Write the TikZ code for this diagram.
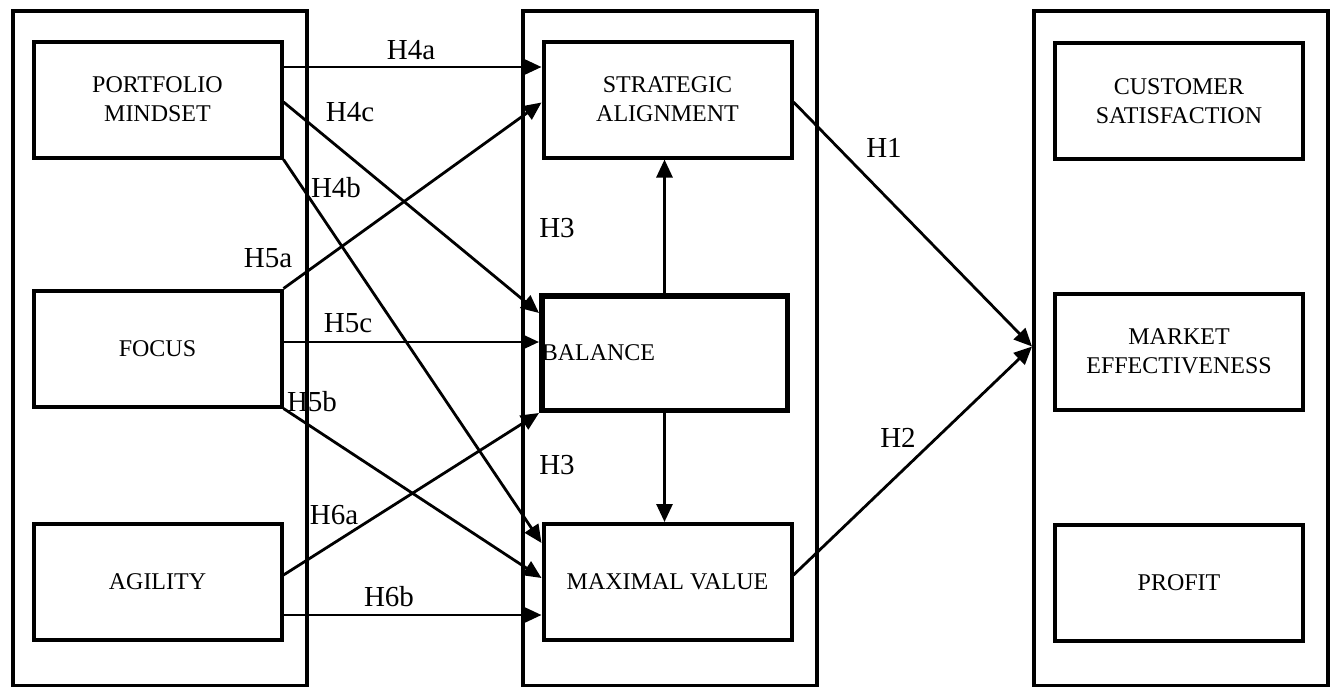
\documentclass[tikz,border=0pt]{standalone}
\usepackage{fontspec}
\setmainfont{Liberation Serif}
\usetikzlibrary{arrows.meta}

\tikzset{
  group/.style={draw,line width=4pt,minimum width=294pt,minimum height=675pt},
  box/.style={draw,line width=4pt,minimum width=248pt,minimum height=116pt,
    align=center,font=\fontsize{24}{29}\selectfont},
  balbox/.style={box,line width=5.5pt,minimum width=245.5pt,minimum height=114.5pt,
    text width=245.5pt,inner xsep=0pt,align=left},
  lab/.style={font=\fontsize{29}{31}\selectfont,inner sep=0pt},
  arr/.style={line width=2.8pt,-{Triangle[length=18pt,width=16pt]}},
}

\begin{document}
\begin{tikzpicture}[x=1pt,y=-1pt]
        \useasboundingbox (0,0) rectangle (1332,686);
        % the three columns
        \draw (160,348.5) node[group] (outL) {};
        \draw (669.5,348.5) node[group] (outM) {};
        \draw (1181,348.5) node[group] (outR) {};
        % left column
        \draw (157.5,99.5) node[box] (pm) {PORTFOLIO\\MINDSET};
        \draw (157.5,348.5) node[box] (fo) {FOCUS};
        \draw (157.5,581.5) node[box] (ag) {AGILITY};
        % middle column
        \draw (667.5,99.5) node[box] (sa) {STRATEGIC\\ALIGNMENT};
        \draw (664.5,353) node[balbox] (ba) {BALANCE};
        \draw (667.5,582) node[box] (mv) {MAXIMAL VALUE};
        % right column
        \draw (1179,101) node[box] (cs) {CUSTOMER\\SATISFACTION};
        \draw (1179,351.5) node[box] (me) {MARKET\\EFFECTIVENESS};
        \draw (1179,582.5) node[box] (pr) {PROFIT};
        % hypotheses
        \draw[arr] ([yshift=32.5pt]pm.east) -- ([yshift=32.5pt]sa.west);
        \draw[arr] ([yshift=-2.5pt]pm.east) -- ([yshift=-20pt]ba.north west);
        \draw[arr] (pm.south east) -- ([yshift=-21pt]mv.north west);
        \draw[arr] (fo.north east) -- ([yshift=-3pt]sa.west);
        \draw[arr] ([yshift=6.5pt]fo.east) -- ([yshift=11pt]ba.west);
        \draw[arr] (fo.south east) -- ([yshift=4pt]mv.west);
        \draw[arr] ([yshift=6.5pt]ag.east) -- (ba.south west);
        \draw[arr] ([yshift=-33.5pt]ag.east) -- ([yshift=-33pt]mv.west);
        \draw[arr] (ba.north) -- (ba.north |- sa.south);
        \draw[arr] (ba.south) -- (ba.south |- mv.north);
        \draw[arr] ([yshift=-2.5pt]sa.east) -- ([yshift=2pt]outR.west);
        \draw[arr] ([yshift=7pt]mv.east) -- ([yshift=2pt]outR.west);
        % labels
        \draw (411,50) node[lab] (h4a) {H4a};
        \draw (350,112) node[lab] (h4c) {H4c};
        \draw (336,188) node[lab] (h4b) {H4b};
        \draw (268,258) node[lab] (h5a) {H5a};
        \draw (348,323) node[lab] (h5c) {H5c};
        \draw (312,402) node[lab] (h5b) {H5b};
        \draw (334,515) node[lab] (h6a) {H6a};
        \draw (389,597) node[lab] (h6b) {H6b};
        \draw (557,228) node[lab] (h3a) {H3};
        \draw (557,465) node[lab] (h3b) {H3};
        \draw (884,148) node[lab] (h1) {H1};
        \draw (898,438) node[lab] (h2) {H2};
\end{tikzpicture}
\end{document}
